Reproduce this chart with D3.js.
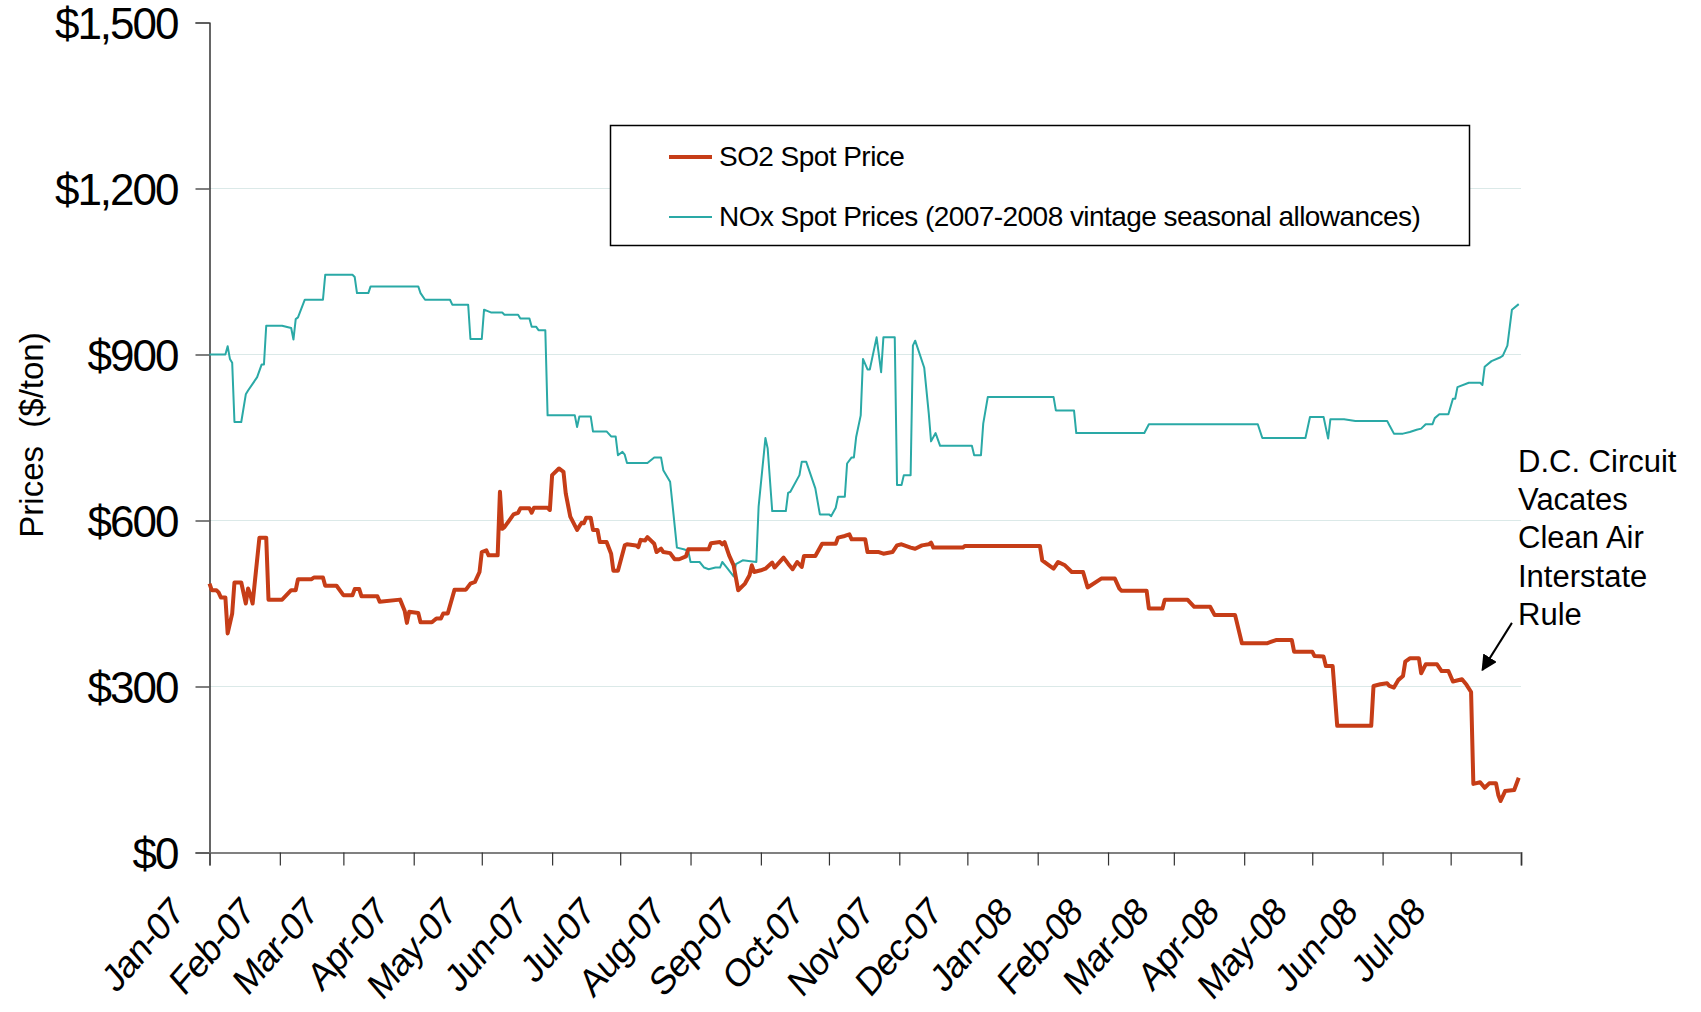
<!DOCTYPE html>
<html>
<head>
<meta charset="utf-8">
<script src="https://cdn.jsdelivr.net/npm/d3@7"></script>
<style>
  body { margin: 0; background: #fff; }
  text { font-family: "Liberation Sans", Arial, sans-serif; fill: #000; }
</style>
</head>
<body>
<script>
// SO2 spot price, $/ton
const so2 = [
  ["2007-01-01",486],["2007-01-02",474],["2007-01-04",474],["2007-01-05",470],["2007-01-06",461],
  ["2007-01-08",461],["2007-01-09",396],["2007-01-11",432],["2007-01-12",488],["2007-01-15",488],
  ["2007-01-17",450],["2007-01-18",477],["2007-01-19",466],["2007-01-20",450],["2007-01-23",569],
  ["2007-01-26",569],["2007-01-27",457],["2007-02-02",457],["2007-02-06",474],["2007-02-08",474],
  ["2007-02-09",494],["2007-02-15",494],["2007-02-16",497],["2007-02-20",497],["2007-02-21",482],
  ["2007-02-26",482],["2007-03-01",465],["2007-03-05",465],["2007-03-06",476],["2007-03-08",476],
  ["2007-03-09",463],["2007-03-16",463],["2007-03-17",453],["2007-03-26",457],["2007-03-28",437],
  ["2007-03-29",415],["2007-03-30",435],["2007-04-03",433],["2007-04-04",416],["2007-04-09",416],
  ["2007-04-11",423],["2007-04-13",423],["2007-04-14",432],["2007-04-16",432],["2007-04-19",475],
  ["2007-04-24",475],["2007-04-26",486],["2007-04-28",489],["2007-04-30",507],["2007-05-01",543],
  ["2007-05-03",546],["2007-05-04",537],["2007-05-08",537],["2007-05-09",652],["2007-05-10",585],
  ["2007-05-11",588],["2007-05-15",611],["2007-05-17",614],["2007-05-18",622],["2007-05-22",622],
  ["2007-05-23",614],["2007-05-24",623],["2007-05-30",623],["2007-05-31",619],["2007-06-01",682],
  ["2007-06-04",694],["2007-06-06",688],["2007-06-07",649],["2007-06-09",607],["2007-06-12",583],
  ["2007-06-14",596],["2007-06-15",595],["2007-06-16",605],["2007-06-18",605],["2007-06-19",583],
  ["2007-06-21",583],["2007-06-22",561],["2007-06-25",561],["2007-06-27",540],["2007-06-28",509],
  ["2007-06-30",509],["2007-07-03",555],["2007-07-04",557],["2007-07-08",555],["2007-07-09",552],
  ["2007-07-10",565],["2007-07-12",564],["2007-07-13",570],["2007-07-16",558],["2007-07-17",543],
  ["2007-07-19",549],["2007-07-20",543],["2007-07-23",541],["2007-07-25",530],["2007-07-27",530],
  ["2007-07-30",535],["2007-07-31",548],["2007-08-09",548],["2007-08-10",559],["2007-08-14",561],
  ["2007-08-15",557],["2007-08-16",561],["2007-08-18",537],["2007-08-20",519],["2007-08-22",474],
  ["2007-08-25",486],["2007-08-27",501],["2007-08-28",519],["2007-08-29",507],["2007-09-01",510],
  ["2007-09-03",513],["2007-09-06",524],["2007-09-07",515],["2007-09-11",533],["2007-09-13",522],
  ["2007-09-15",512],["2007-09-17",525],["2007-09-19",516],["2007-09-20",536],["2007-09-25",536],
  ["2007-09-28",558],["2007-10-04",558],["2007-10-05",569],["2007-10-08",572],["2007-10-10",575],
  ["2007-10-11",566],["2007-10-17",566],["2007-10-18",543],["2007-10-23",543],["2007-10-25",540],
  ["2007-10-29",543],["2007-10-31",555],["2007-11-02",557],["2007-11-06",551],["2007-11-08",549],
  ["2007-11-11",555],["2007-11-14",557],["2007-11-15",560],["2007-11-16",551],["2007-11-29",551],
  ["2007-11-30",554],["2008-01-02",554],["2008-01-03",528],["2008-01-06",519],["2008-01-08",513],
  ["2008-01-10",525],["2008-01-13",519],["2008-01-16",507],["2008-01-21",507],["2008-01-23",479],
  ["2008-01-29",495],["2008-02-04",495],["2008-02-06",477],["2008-02-07",473],["2008-02-18",473],
  ["2008-02-19",441],["2008-02-25",441],["2008-02-26",457],["2008-03-07",457],["2008-03-10",444],
  ["2008-03-17",444],["2008-03-19",429],["2008-03-28",429],["2008-03-31",378],["2008-04-11",378],
  ["2008-04-15",384],["2008-04-22",384],["2008-04-23",363],["2008-05-01",363],["2008-05-02",355],
  ["2008-05-06",354],["2008-05-07",337],["2008-05-10",337],["2008-05-12",229],["2008-05-27",229],
  ["2008-05-28",301],["2008-05-31",304],["2008-06-03",306],["2008-06-04",301],["2008-06-06",298],
  ["2008-06-08",312],["2008-06-10",319],["2008-06-11",345],["2008-06-13",351],["2008-06-17",351],
  ["2008-06-18",324],["2008-06-20",340],["2008-06-25",340],["2008-06-27",328],["2008-06-30",328],
  ["2008-07-02",309],["2008-07-06",313],["2008-07-08",303],["2008-07-10",290],["2008-07-11",124],
  ["2008-07-14",127],["2008-07-16",117],["2008-07-18",125],["2008-07-21",125],["2008-07-22",104],
  ["2008-07-23",93],["2008-07-25",111],["2008-07-29",113],["2008-07-31",135]
];

// NOx seasonal allowance spot price, $/ton
const nox = [
  ["2007-01-01",900],["2007-01-08",900],["2007-01-09",915],["2007-01-10",892],["2007-01-11",885],
  ["2007-01-12",778],["2007-01-15",778],["2007-01-17",828],["2007-01-18",835],["2007-01-22",859],
  ["2007-01-24",882],["2007-01-25",882],["2007-01-26",952],["2007-02-02",952],["2007-02-06",948],
  ["2007-02-07",927],["2007-02-08",964],["2007-02-09",967],["2007-02-12",999],["2007-02-20",999],
  ["2007-02-21",1044],["2007-03-05",1044],["2007-03-06",1040],["2007-03-07",1011],["2007-03-12",1011],
  ["2007-03-13",1023],["2007-04-03",1023],["2007-04-04",1011],["2007-04-06",999],["2007-04-17",999],
  ["2007-04-18",990],["2007-04-25",990],["2007-04-26",928],["2007-05-01",928],["2007-05-02",981],
  ["2007-05-05",976],["2007-05-10",976],["2007-05-11",972],["2007-05-17",972],["2007-05-18",965],
  ["2007-05-22",965],["2007-05-23",950],["2007-05-25",950],["2007-05-26",944],["2007-05-29",944],
  ["2007-05-30",790],["2007-06-11",790],["2007-06-12",769],["2007-06-13",788],["2007-06-18",788],
  ["2007-06-19",761],["2007-06-25",761],["2007-06-27",752],["2007-06-29",752],["2007-06-30",718],
  ["2007-07-02",724],["2007-07-03",719],["2007-07-04",704],["2007-07-13",704],["2007-07-16",714],
  ["2007-07-19",714],["2007-07-20",691],["2007-07-23",670],["2007-07-24",631],["2007-07-26",551],
  ["2007-07-29",548],["2007-07-31",545],["2007-08-01",525],["2007-08-05",525],["2007-08-07",515],
  ["2007-08-09",512],["2007-08-12",515],["2007-08-14",515],["2007-08-15",525],["2007-08-17",515],
  ["2007-08-20",499],["2007-08-21",521],["2007-08-24",528],["2007-08-30",525],["2007-08-31",625],
  ["2007-09-03",749],["2007-09-04",730],["2007-09-06",617],["2007-09-12",617],["2007-09-13",650],
  ["2007-09-14",652],["2007-09-18",682],["2007-09-19",706],["2007-09-21",706],["2007-09-25",658],
  ["2007-09-27",611],["2007-10-01",611],["2007-10-02",608],["2007-10-04",623],["2007-10-05",643],
  ["2007-10-08",643],["2007-10-09",703],["2007-10-11",714],["2007-10-12",714],["2007-10-13",751],
  ["2007-10-15",790],["2007-10-16",892],["2007-10-18",873],["2007-10-19",873],["2007-10-22",931],
  ["2007-10-24",868],["2007-10-25",931],["2007-10-30",931],["2007-10-31",664],["2007-11-02",664],
  ["2007-11-03",682],["2007-11-06",682],["2007-11-07",916],["2007-11-08",925],["2007-11-12",876],
  ["2007-11-14",793],["2007-11-15",743],["2007-11-17",758],["2007-11-19",735],["2007-12-03",735],
  ["2007-12-04",718],["2007-12-07",718],["2007-12-08",775],["2007-12-10",823],["2008-01-08",823],
  ["2008-01-09",799],["2008-01-17",799],["2008-01-18",758],["2008-02-17",758],["2008-02-19",774],
  ["2008-04-07",774],["2008-04-09",749],["2008-04-28",749],["2008-04-30",787],["2008-05-06",787],
  ["2008-05-08",748],["2008-05-09",783],["2008-05-15",783],["2008-05-20",780],["2008-06-03",780],
  ["2008-06-04",772],["2008-06-06",757],["2008-06-10",757],["2008-06-13",760],["2008-06-16",764],
  ["2008-06-18",766],["2008-06-20",774],["2008-06-23",774],["2008-06-24",785],["2008-06-26",792],
  ["2008-06-30",792],["2008-07-02",820],["2008-07-03",820],["2008-07-04",841],["2008-07-09",849],
  ["2008-07-14",849],["2008-07-15",845],["2008-07-16",878],["2008-07-19",888],["2008-07-23",895],
  ["2008-07-24",898],["2008-07-26",916],["2008-07-28",981],["2008-07-31",991]
];

const yTicks = [0, 300, 600, 900, 1200, 1500];
const seriesNames = ["SO2 Spot Price", "NOx Spot Prices (2007-2008 vintage seasonal allowances)"];
const seriesColors = ["#c63d17", "#2aa9a6"];
const noteLines = ["D.C. Circuit", "Vacates", "Clean Air", "Interstate", "Rule"];
const arrowFrom = ["2008-07-28", 415];
const arrowTo = ["2008-07-15", 330];

const W = 1701, H = 1012;
const mLeft = 209.5, mRight = 1521, mTop = 22.5, mBottom = 852.5;
const parse = d3.timeParse("%Y-%m-%d");

const svg = d3.select("body").append("svg")
  .attr("width", W)
  .attr("height", H);

const x = d3.scaleTime()
  .domain([parse("2007-01-01"), parse("2008-08-01")])
  .range([mLeft, mRight]);

const y = d3.scaleLinear()
  .domain([0, 1500])
  .range([mBottom, mTop]);

// gridlines
svg.append("g")
  .selectAll("line")
  .data(yTicks.filter(d => d > 0 && d < 1500))
  .enter()
  .append("line")
  .attr("x1", mLeft)
  .attr("x2", mRight)
  .attr("y1", d => y(d))
  .attr("y2", d => y(d))
  .attr("stroke", "#dbe9e8")
  .attr("stroke-width", 1.2);

// y axis
const yAxis = svg.append("g")
  .attr("transform", `translate(${mLeft},0)`)
  .call(d3.axisLeft(y).tickValues(yTicks).tickSize(14).tickPadding(18)
    .tickFormat(d => "$" + d3.format(",")(d)));
yAxis.select(".domain").attr("stroke", "#000").attr("stroke-width", 1.2);
yAxis.selectAll(".tick line").attr("stroke", "#555").attr("stroke-width", 1.5);
yAxis.selectAll(".tick text")
  .attr("font-size", 44)
  .attr("font-family", "Liberation Sans, Arial, sans-serif")
  .attr("letter-spacing", -2)
  .attr("dy", "0.36em");

// x axis
const months = d3.timeMonth.range(parse("2007-01-01"), parse("2008-08-02"));
const xAxis = svg.append("g")
  .attr("transform", `translate(0,${mBottom})`)
  .call(d3.axisBottom(x).tickValues(months).tickSize(13).tickFormat(""));
xAxis.select(".domain").attr("stroke", "#808080").attr("stroke-width", 2);
xAxis.selectAll(".tick line").attr("stroke", "#333").attr("stroke-width", 1.2);

svg.append("g")
  .selectAll("text")
  .data(months.slice(0, -1))
  .enter()
  .append("text")
  .attr("transform", d => `translate(${x(d) - 24},${mBottom + 62}) scale(1,1.15) rotate(-45)`)
  .attr("text-anchor", "end")
  .attr("font-size", 34)
  .attr("letter-spacing", -1)
  .text(d3.timeFormat("%b-%y"));

// y axis title
svg.append("text")
  .attr("transform", `translate(43,435) rotate(-90)`)
  .attr("text-anchor", "middle")
  .attr("font-size", 33)
  .style("white-space", "pre")
  .text("Prices  ($/ton)");

// lines
const line = d3.line()
  .x(d => x(parse(d[0])))
  .y(d => y(d[1]));

svg.append("path")
  .datum(nox)
  .attr("d", line)
  .attr("fill", "none")
  .attr("stroke", seriesColors[1])
  .attr("stroke-width", 2)
  .attr("stroke-linejoin", "round");

svg.append("path")
  .datum(so2)
  .attr("d", line)
  .attr("fill", "none")
  .attr("stroke", seriesColors[0])
  .attr("stroke-width", 4)
  .attr("stroke-linejoin", "round");

// legend
const legend = svg.append("g");
legend.append("rect")
  .attr("x", 610.5).attr("y", 125.5)
  .attr("width", 859).attr("height", 120)
  .attr("fill", "#fff")
  .attr("stroke", "#000")
  .attr("stroke-width", 1.5);

seriesNames.forEach((name, i) => {
  const ly = 157 + i * 60;
  legend.append("line")
    .attr("x1", 669).attr("x2", 712)
    .attr("y1", ly).attr("y2", ly)
    .attr("stroke", seriesColors[i])
    .attr("stroke-width", i == 0 ? 4 : 2);
  legend.append("text")
    .attr("x", 719)
    .attr("y", ly + 9)
    .attr("font-size", 28)
    .attr("letter-spacing", -0.55)
    .text(name);
});

// annotation
const note = svg.append("text")
  .attr("x", 1518)
  .attr("y", 472)
  .attr("font-size", 31);
noteLines.forEach((t, i) => {
  note.append("tspan")
    .attr("x", 1518)
    .attr("dy", i == 0 ? 0 : 38.2)
    .text(t);
});

svg.append("defs").append("marker")
  .attr("id", "head")
  .attr("viewBox", "0 0 10 10")
  .attr("refX", 9).attr("refY", 5)
  .attr("markerWidth", 8).attr("markerHeight", 8)
  .attr("orient", "auto")
  .append("path")
  .attr("d", "M0,0 L10,5 L0,10 z")
  .attr("fill", "#000");

svg.append("line")
  .attr("x1", x(parse(arrowFrom[0])))
  .attr("y1", y(arrowFrom[1]))
  .attr("x2", x(parse(arrowTo[0])))
  .attr("y2", y(arrowTo[1]))
  .attr("stroke", "#000")
  .attr("stroke-width", 2)
  .attr("marker-end", "url(#head)");
</script>
</body>
</html>
